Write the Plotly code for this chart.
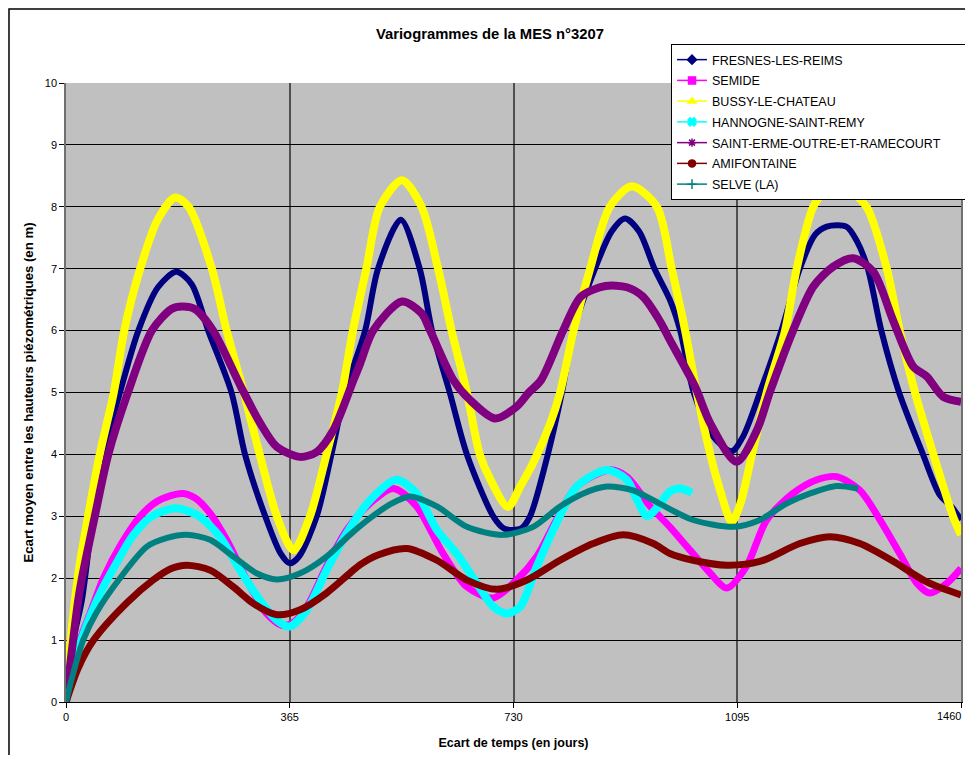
import plotly.graph_objects as go

# Ecart de temps (jours) / écart moyen (m)
fresnes_d = [0, 12, 26, 40, 61, 88, 118, 150, 180, 205, 232, 270, 292, 325, 350, 365, 380, 409, 433, 455,
             488, 509, 546, 577, 597, 626, 654, 697, 715, 727, 742, 757, 786, 809, 828, 863, 890, 912, 935,
             960, 985, 1002, 1024, 1055, 1086, 1105, 1132, 1167, 1197, 1222, 1241, 1273, 1290, 1308, 1330,
             1359, 1398, 1425, 1445, 1460]
fresnes_v = [0, 1.0, 1.65, 2.7, 4.0, 5.0, 6.0, 6.7, 6.95, 6.75, 6.0, 5.0, 4.0, 3.0, 2.4, 2.24, 2.35, 3.0, 4.0, 5.0,
             6.0, 7.0, 7.79, 7.0, 6.0, 5.0, 4.0, 3.0, 2.8, 2.78, 2.8, 3.0, 4.0, 5.0, 6.0, 7.0, 7.6, 7.81, 7.6,
             7.0, 6.5, 6.0, 5.0, 4.3, 4.05, 4.3, 5.0, 6.0, 7.0, 7.55, 7.68, 7.68, 7.45, 7.0, 6.0,
             5.0, 4.0, 3.35, 3.15, 2.94]

semide_d = [0, 10, 23, 40, 61, 90, 121, 150, 189, 210, 235, 262, 295, 327, 352, 370, 393, 425, 458, 496,
            534, 572, 615, 654, 697, 735, 768, 800, 833, 887, 915, 953, 985, 1013, 1051, 1078, 1110, 1143,
            1186, 1225, 1257, 1295, 1328, 1360, 1388, 1409, 1437, 1460]
semide_v = [0, 0.5, 1.0, 1.45, 2.0, 2.55, 3.0, 3.25, 3.37, 3.3, 3.05, 2.62, 1.97, 1.43, 1.24, 1.28, 1.54, 2.19, 2.78, 3.21,
            3.45, 3.16, 2.4, 1.86, 1.68, 1.97, 2.35, 2.94, 3.48, 3.75, 3.64, 3.16, 2.83, 2.51, 2.08, 1.84, 2.19, 2.94,
            3.37, 3.59, 3.64, 3.42, 2.94, 2.4, 1.92, 1.76, 1.92, 2.16]

bussy_d = [0, 6, 14, 22, 36, 55, 78, 95, 121, 150, 178, 200, 238, 262, 290, 316, 344, 371, 398, 425,
           450, 468, 490, 512, 548, 580, 607, 629, 654, 675, 692, 721, 741, 762, 790, 806, 828, 855, 887,
           923, 964, 988, 1010, 1029, 1051, 1067, 1086, 1100, 1119, 1143, 1173, 1192, 1219, 1240, 1257,
           1275, 1306, 1339, 1360, 1385, 1415, 1447, 1460]
bussy_v = [0, 0.8, 1.6, 2.2, 3.0, 4.0, 5.0, 6.0, 7.0, 7.8, 8.15, 8.0, 7.0, 6.0, 5.0, 4.0, 3.0, 2.45, 3.0, 4.0,
           5.0, 6.0, 7.0, 8.0, 8.43, 8.0, 7.0, 6.0, 5.0, 4.0, 3.6, 3.15, 3.48, 3.86, 4.5, 5.0, 6.0, 7.0, 8.0,
           8.33, 8.0, 7.0, 6.0, 5.0, 4.0, 3.42, 2.91, 3.2, 4.0, 5.0, 6.0, 7.0, 8.0, 8.28, 8.3,
           8.28, 8.0, 7.0, 6.0, 5.0, 4.0, 3.0, 2.7]

hannogne_d = [0, 10, 25, 40, 58, 80, 110, 140, 178, 200, 219, 251, 284, 316, 344, 365, 393, 425, 458, 496,
              539, 572, 605, 637, 670, 697, 719, 741, 768, 800, 833, 882, 915, 930, 948, 965, 985, 1002, 1021]
hannogne_v = [0, 0.5, 1.0, 1.4, 1.8, 2.2, 2.7, 3.0, 3.13, 3.08, 2.99, 2.67, 2.13, 1.65, 1.32, 1.22, 1.49, 2.13, 2.73, 3.26,
              3.59, 3.37, 2.78, 2.4, 1.92, 1.54, 1.43, 1.54, 2.19, 2.89, 3.48, 3.75, 3.59, 3.3, 3.0, 3.15, 3.4, 3.45, 3.38]

sterme_d = [0, 8, 20, 26, 47, 69, 101, 140, 172, 189, 210, 240, 285, 317, 344, 382, 409, 436, 469, 480,
            501, 548, 580, 594, 632, 659, 700, 735, 755, 775, 811, 840, 880, 915, 941, 969, 985, 1026, 1051,
            1094, 1127, 1148, 1186, 1219, 1251, 1284, 1317, 1349, 1382, 1404, 1431, 1460]
sterme_v = [0, 0.7, 1.65, 2.0, 3.0, 4.0, 5.0, 6.0, 6.35, 6.39, 6.35, 6.0, 5.1, 4.5, 4.12, 3.96, 4.04, 4.39, 5.2, 5.47,
            6.0, 6.47, 6.28, 6.0, 5.2, 4.88, 4.58, 4.77, 5.0, 5.2, 6.0, 6.55, 6.72, 6.7, 6.55, 6.15, 5.85, 5.1, 4.5,
            3.88, 4.39, 5.0, 6.0, 6.71, 7.03, 7.17, 6.95, 6.17, 5.42, 5.26, 4.93, 4.85]

amifontaine_d = [0, 20, 45, 99, 142, 170, 197, 235, 273, 306, 344, 382, 425, 463, 480, 510, 556, 605, 654,
                 703, 752, 806, 860, 909, 958, 985, 1023, 1078, 1132, 1197, 1246, 1295, 1350, 1404, 1460]
amifontaine_v = [0, 0.55, 1.0, 1.6, 1.97, 2.15, 2.21, 2.13, 1.86, 1.59, 1.41, 1.49, 1.76, 2.08, 2.22, 2.38, 2.48, 2.29, 1.97,
                 1.82, 1.97, 2.29, 2.56, 2.7, 2.56, 2.4, 2.29, 2.21, 2.27, 2.56, 2.67, 2.56, 2.27, 1.94, 1.73]

selve_d = [0, 10, 28, 50, 88, 132, 165, 197, 235, 273, 311, 344, 382, 425, 463, 496, 530, 561, 605, 654,
           713, 762, 806, 844, 882, 925, 969, 1023, 1089, 1132, 1176, 1214, 1257, 1292]
selve_v = [0, 0.4, 1.0, 1.45, 2.0, 2.51, 2.65, 2.7, 2.62, 2.35, 2.08, 1.98, 2.08, 2.35, 2.7, 2.97, 3.2, 3.32, 3.16, 2.83,
           2.7, 2.83, 3.16, 3.37, 3.48, 3.42, 3.2, 2.94, 2.83, 2.94, 3.21, 3.37, 3.49, 3.45]

x_ticks = [0, 365, 730, 1095, 1460]
# le dernier libellé est posé à part, calé à gauche du bord comme sur l'original
x_ticktext = ['0', '365', '730', '1095', '']
last_tick_label = '1460'

series = [
    ('FRESNES-LES-REIMS', fresnes_d, fresnes_v, '#000080', 'diamond', 6),
    ('SEMIDE', semide_d, semide_v, '#FF00FF', 'square', 7),
    ('BUSSY-LE-CHATEAU', bussy_d, bussy_v, '#FFFF00', 'triangle-up', 8),
    ('HANNOGNE-SAINT-REMY', hannogne_d, hannogne_v, '#00FFFF', 'x', 8),
    ('SAINT-ERME-OUTRE-ET-RAMECOURT', sterme_d, sterme_v, '#800080', 'asterisk-open', 8),
    ('AMIFONTAINE', amifontaine_d, amifontaine_v, '#800000', 'circle', 7),
    ('SELVE (LA)', selve_d, selve_v, '#008080', 'cross-thin-open', 6),
]

FONT = 'Liberation Sans, Arial, sans-serif'

fig = go.Figure()

# courbes épaisses (sans légende)
for name, d, v, color, symbol, width in series:
    fig.add_trace(go.Scatter(x=d, y=v, mode='lines', showlegend=False,
                             line=dict(color=color, width=width, shape='spline', smoothing=0.8),
                             hoverinfo='skip'))

# entrées de légende fines avec marqueur (espaces insécables : cadre plus large)
for name, d, v, color, symbol, width in series:
    label = name + '\u00a0' * 6 if name.startswith('SAINT') else name
    fig.add_trace(go.Scatter(x=[None], y=[None], mode='lines+markers', name=label, legendgroup=name,
                             line=dict(color=color, width=1.5),
                             marker=dict(color=color, symbol=symbol, size=7,
                                         line=dict(color=color, width=1.5))))

# la page html ajoute 8 px de marge : la figure est réduite d'autant (pas de barres de défilement)
fig.update_layout(
    template='none',
    width=957, height=747,
    margin=dict(l=58, r=4, t=75, b=53, autoexpand=False),
    paper_bgcolor='white',
    plot_bgcolor='#C0C0C0',
    font=dict(family=FONT, size=11, color='black'),
    title=dict(text='Variogrammes de la MES n°3207', x=0.5036, xanchor='center',
               y=0.9655, yanchor='middle',
               font=dict(family=FONT, size=14.8, color='black', weight='bold')),
    legend=dict(x=0.676, y=1.063, xanchor='left', yanchor='top',
                bgcolor='white', bordercolor='black', borderwidth=1,
                font=dict(family=FONT, size=12.5, color='black'),
                itemwidth=30, tracegroupgap=1.5),
    shapes=[dict(type='rect', xref='paper', yref='paper',
                 x0=-0.0637, x1=1.2, y0=-0.2, y1=1.1196,
                 line=dict(color='black', width=1.5), layer='above')],
    annotations=[dict(x=x_ticks[-1], xref='x', y=0, yref='paper', text=last_tick_label,
                      showarrow=False, xanchor='right', yanchor='middle', xshift=2, yshift=-14,
                      font=dict(family=FONT, size=11, color='black'))],
)

fig.update_xaxes(range=[0, 1460], tickvals=x_ticks, ticktext=x_ticktext, automargin=False,
                 showgrid=True, gridcolor='#505050', gridwidth=1.5,
                 showline=True, linecolor='black', linewidth=1,
                 ticks='outside', ticklen=5, tickcolor='black', zeroline=False,
                 title=dict(text='Ecart de temps (en jours)', standoff=16,
                            font=dict(family=FONT, size=12.5, weight='bold')))

fig.update_yaxes(range=[0, 10], dtick=1, automargin=False,
                 showgrid=True, gridcolor='black', gridwidth=1,
                 showline=True, linecolor='#707070', linewidth=1.5, mirror=True,
                 ticks='outside', ticklen=5, tickcolor='black', zeroline=False,
                 title=dict(text='Ecart moyen entre les hauteurs piézométriques (en m)', standoff=8,
                            font=dict(family=FONT, size=13.2, weight='bold')))

fig.write_html('out.html')
